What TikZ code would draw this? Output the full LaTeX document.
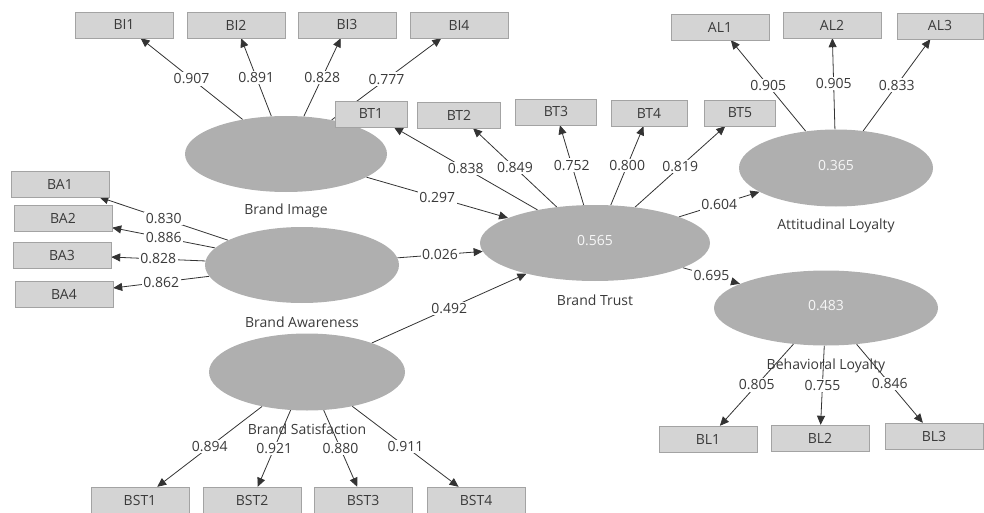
\documentclass[tikz,border=0pt]{standalone}
\usepackage{fontspec}
\setmainfont{Open Sans}
\usepackage{tikz}
\usetikzlibrary{shapes.geometric}
\usetikzlibrary{arrows.meta}
\usetikzlibrary{backgrounds}

\definecolor{boxfill}{HTML}{D4D4D4}
\definecolor{boxline}{HTML}{A3A3A3}
\definecolor{lvfill}{HTML}{AFAFAF}
\definecolor{linegray}{HTML}{333333}
\definecolor{textgray}{HTML}{3A3A3A}

\tikzset{
  item/.style={draw=boxline, fill=boxfill, minimum width=98pt,
               minimum height=26pt, inner sep=0pt, text=textgray},
  latent/.style={ellipse, fill=lvfill, inner sep=0pt, text=white!94!gray},
  lvname/.style={text=textgray, inner sep=0pt},
  coef/.style={midway, fill=white, inner sep=1.5pt, text=textgray},
  link/.style={draw=linegray, line width=0.8pt,
               -{Triangle[length=9pt,width=8pt]}},
}

\begin{document}
\begin{tikzpicture}[x=1pt,y=-1pt,font=\fontsize{14}{16}\selectfont]
\useasboundingbox (0,0) rectangle (984,513);

% latent variables
\node[latent, minimum width=202pt, minimum height=76pt] (bi) at (286,154) {};
\node[latent, minimum width=194pt, minimum height=76pt] (ba) at (302,265) {};
\node[latent, minimum width=196pt, minimum height=77pt] (bs) at (307,372) {};
\node[latent, minimum width=230pt, minimum height=76pt] (bt) at (595,243)
      {\raisebox{5pt}{0.565}};
\node[latent, minimum width=194pt, minimum height=77pt] (al) at (836,168)
      {\raisebox{5pt}{0.365}};
\node[latent, minimum width=224pt, minimum height=75pt] (bl) at (826,308)
      {\raisebox{5pt}{0.483}};

\node[lvname] (biname) at ([yshift=-19pt]bi.south) {Brand Image};
\node[lvname] (baname) at ([yshift=-19pt]ba.south) {Brand Awareness};
\node[lvname] (bsname) at ([yshift=-19pt]bs.south) {Brand Satisfaction};
\node[lvname] (btname) at ([yshift=-19pt]bt.south) {Brand Trust};
\node[lvname] (alname) at ([yshift=-19pt]al.south) {Attitudinal Loyalty};
\node[lvname] (blname) at ([yshift=-20pt]bl.south) {Behavioral Loyalty};

% indicators
\node[item] (bi1) at (124,25) {BI1};
\node[item] (bi2) at (236,25) {BI2};
\node[item] (bi3) at (347,25) {BI3};
\node[item] (bi4) at (459,25) {BI4};
\node[item, minimum width=72pt] (bt1) at (371,114) {BT1};
\node[item, minimum width=83pt] (bt2) at (459,115) {BT2};
\node[item, minimum width=81pt] (bt3) at (556,112) {BT3};
\node[item, minimum width=76pt] (bt4) at (649,113) {BT4};
\node[item, minimum width=71pt] (bt5) at (740,113) {BT5};
\node[item] (al1) at (720,27) {AL1};
\node[item] (al2) at (832,25) {AL2};
\node[item, minimum width=86pt] (al3) at (940,26) {AL3};
\node[item] (ba1) at (60,184) {BA1};
\node[item] (ba2) at (63,218) {BA2};
\node[item] (ba3) at (62,255) {BA3};
\node[item] (ba4) at (64,294) {BA4};
\node[item] (bs1) at (140,500) {BST1};
\node[item] (bs2) at (252,500) {BST2};
\node[item] (bs3) at (363,500) {BST3};
\node[item] (bs4) at (476,500) {BST4};
\node[item] (bl1) at (708,439) {BL1};
\node[item] (bl2) at (820,438) {BL2};
\node[item] (bl3) at (934,436) {BL3};

\begin{scope}[on background layer]
% outer loadings
\draw[link] (bi) -- node[coef] (cbi1) {0.907} (bi1);
\draw[link] (bi) -- node[coef] (cbi2) {0.891} (bi2);
\draw[link] (bi) -- node[coef] (cbi3) {0.828} (bi3);
\draw[link] (bi) -- node[coef] (cbi4) {0.777} (bi4);
\draw[link] (bt) -- node[coef] (cbt1) {0.838} (bt1);
\draw[link] (bt) -- node[coef] (cbt2) {0.849} (bt2);
\draw[link] (bt) -- node[coef] (cbt3) {0.752} (bt3);
\draw[link] (bt) -- node[coef] (cbt4) {0.800} (bt4);
\draw[link] (bt) -- node[coef] (cbt5) {0.819} (bt5);
\draw[link] (al) -- node[coef] (cal1) {0.905} (al1);
\draw[link] (al) -- node[coef] (cal2) {0.905} (al2);
\draw[link] (al) -- node[coef] (cal3) {0.833} (al3);
\draw[link] (ba) -- node[coef] (cba1) {0.830} (ba1);
\draw[link] (ba) -- node[coef] (cba2) {0.886} (ba2);
\draw[link] (ba) -- node[coef] (cba3) {0.828} (ba3);
\draw[link] (ba) -- node[coef] (cba4) {0.862} (ba4);
\draw[link] (bs) -- node[coef] (cbs1) {0.894} (bs1);
\draw[link] (bs) -- node[coef] (cbs2) {0.921} (bs2);
\draw[link] (bs) -- node[coef] (cbs3) {0.880} (bs3);
\draw[link] (bs) -- node[coef] (cbs4) {0.911} (bs4);
\draw[link] (bl) -- node[coef] (cbl1) {0.805} (bl1);
\draw[link] (bl) -- node[coef] (cbl2) {0.755} (bl2);
\draw[link] (bl) -- node[coef] (cbl3) {0.846} (bl3);

% inner paths
\draw[link] (bi) -- node[coef] (pbi) {0.297} (bt);
\draw[link] (ba) -- node[coef] (pba) {0.026} (bt);
\draw[link] (bs) -- node[coef] (pbs) {0.492} (bt);
\draw[link] (bt) -- node[coef] (pal) {0.604} (al);
\draw[link] (bt) -- node[coef] (pbl) {0.695} (bl);
\end{scope}
\end{tikzpicture}
\end{document}
